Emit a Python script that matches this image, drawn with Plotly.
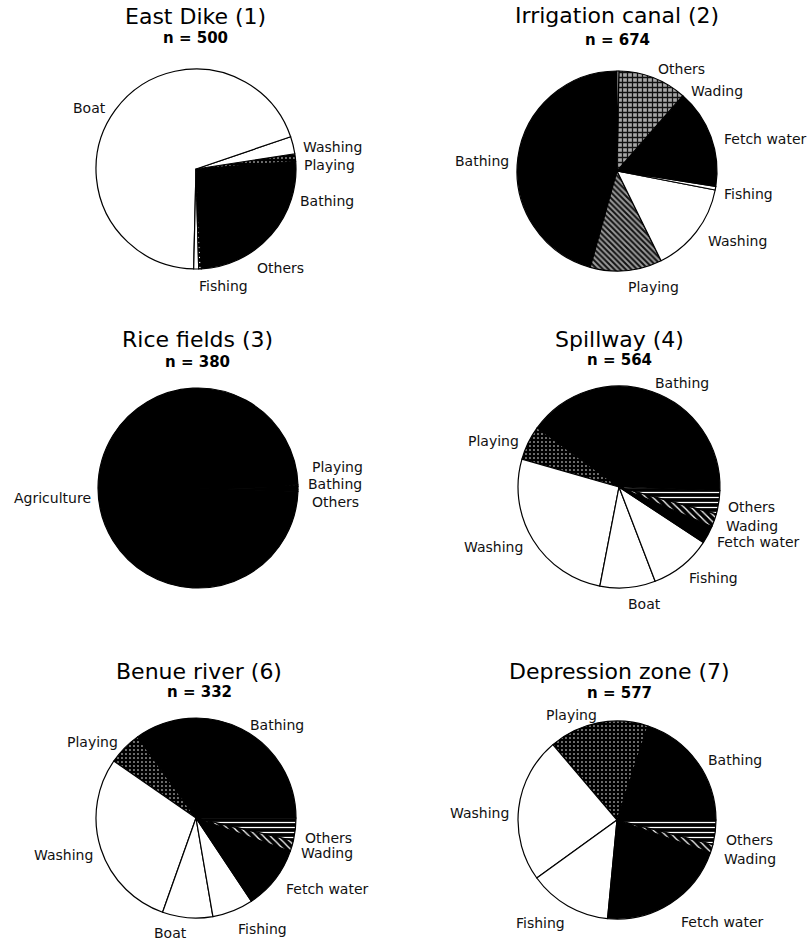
import plotly.graph_objects as go

# Activity categories, in the order the slices run counter-clockwise
CATEGORIES = ["Bathing", "Playing", "Washing", "Boat", "Fishing",
              "Fetch water", "Wading", "Others"]

# Number of observed contacts per activity at each site
east_dike = [127, 6, 14, 347, 4, 0, 0, 2]
irrigation_canal = [308, 78, 99, 0, 4, 108, 75, 2]
spillway = [229, 31, 149, 50, 56, 16, 12, 21]
benue_river = [116, 18, 97, 27, 22, 34, 6, 12]
depression_zone = [115, 94, 137, 0, 78, 122, 8, 23]

RICE_CATEGORIES = ["Bathing", "Playing", "Agriculture", "Others"]
rice_fields = [2, 1, 376, 1]

SITE_TITLES = ["East Dike (1)", "Irrigation canal (2)", "Rice fields (3)",
               "Spillway (4)", "Benue river (6)", "Depression zone (7)"]

W, H = 809, 942
FONT = "DejaVu Sans"

# Fill style per activity: (background colour, pattern shape, pattern colour, size, solidity)
STYLE = {
    "Bathing":     ("#000000", "", "#000000", 4, 0.3),
    "Fetch water": ("#000000", "", "#000000", 4, 0.3),
    "Agriculture": ("#000000", "", "#000000", 4, 0.3),
    "Playing":     ("#000000", ".", "#ffffff", 4, 0.12),
    "Wading":      ("#000000", "\\", "#ffffff", 5, 0.25),
    "Others":      ("#000000", "-", "#ffffff", 5, 0.25),
    "Washing":     ("#ffffff", "", "#ffffff", 4, 0.3),
    "Boat":        ("#ffffff", "", "#ffffff", 4, 0.3),
    "Fishing":     ("#ffffff", "", "#ffffff", 4, 0.3),
}

# Irrigation canal uses lighter hatching for playing and wading
CANAL_STYLE = {
    "Playing": ("#9a9a9a", "\\", "#111111", 4, 0.5),
    "Wading":  ("#a8a8a8", "+", "#111111", 5, 0.45),
    "Others":  ("#ffffff", "", "#ffffff", 4, 0.3),
}

# Pie layout: centre (px), radius (px) and the clockwise angle (from 12 o'clock)
# where the first slice begins before the slices run counter-clockwise
PIES = [
    dict(labels=CATEGORIES, values=east_dike, cx=196, cy=169, r=100, start=177),
    dict(labels=CATEGORIES, values=irrigation_canal, cx=617, cy=171, r=100, start=0,
         style=CANAL_STYLE),
    dict(labels=RICE_CATEGORIES, values=rice_fields, cx=198, cy=488, r=100, start=91),
    dict(labels=CATEGORIES, values=spillway, cx=619, cy=487, r=101, start=92),
    dict(labels=CATEGORIES, values=benue_river, cx=196, cy=818, r=100, start=90),
    dict(labels=CATEGORIES, values=depression_zone, cx=617, cy=820, r=99, start=90),
]

# Title / sample size positions (px)
TITLE_POS = [(195, 17, 38), (617, 16, 40), (197, 340, 362),
             (619, 340, 360), (199, 671, 692), (619, 671, 693)]

# Slice label positions (px)
SLICE_LABELS = [
    [("Boat", 89, 108), ("Washing", 332, 147), ("Playing", 329, 165),
     ("Bathing", 327, 201), ("Others", 280, 268), ("Fishing", 223, 286)],
    [("Others", 681, 69), ("Wading", 717, 91), ("Fetch water", 765, 139),
     ("Fishing", 748, 194), ("Washing", 737, 241), ("Playing", 653, 287),
     ("Bathing", 482, 161)],
    [("Agriculture", 52, 498), ("Playing", 337, 467), ("Bathing", 335, 484),
     ("Others", 335, 502)],
    [("Bathing", 682, 383), ("Playing", 493, 441), ("Others", 751, 507),
     ("Wading", 752, 526), ("Fetch water", 758, 542), ("Washing", 493, 547),
     ("Fishing", 713, 578), ("Boat", 644, 604)],
    [("Bathing", 277, 725), ("Playing", 92, 742), ("Others", 328, 838),
     ("Wading", 327, 853), ("Washing", 64, 855), ("Fetch water", 327, 889),
     ("Fishing", 262, 929), ("Boat", 170, 933)],
    [("Playing", 571, 715), ("Bathing", 735, 760), ("Washing", 480, 813),
     ("Others", 749, 840), ("Wading", 750, 859), ("Fishing", 540, 923),
     ("Fetch water", 722, 922)],
]

fig = go.Figure()

for pie in PIES:
    labels = [l for l, v in zip(pie["labels"], pie["values"]) if v > 0]
    values = [v for v in pie["values"] if v > 0]
    overrides = pie.get("style", {})
    styles = [overrides.get(l, STYLE[l]) for l in labels]
    cx, cy, r = pie["cx"], pie["cy"], pie["r"]
    # In counter-clockwise mode plotly places the first slice clockwise of
    # `rotation`, so rotation is the far edge of the first slice.
    rotation = (pie["start"] - 360.0 * values[0] / sum(values)) % 360
    fig.add_trace(go.Pie(
        labels=labels,
        values=values,
        sort=False,
        direction="counterclockwise",
        rotation=rotation,
        textinfo="none",
        showlegend=False,
        domain=dict(x=[(cx - r) / W, (cx + r) / W],
                    y=[1 - (cy + r) / H, 1 - (cy - r) / H]),
        marker=dict(
            colors=[s[0] for s in styles],
            line=dict(color="#000000", width=1.2),
            pattern=dict(
                shape=[s[1] for s in styles],
                fgcolor=[s[2] for s in styles],
                bgcolor=[s[0] for s in styles],
                size=[s[3] for s in styles],
                solidity=[s[4] for s in styles],
            ),
        ),
    ))

annotations = []
for title, (x, ty, ny), pie in zip(SITE_TITLES, TITLE_POS, PIES):
    n = sum(pie["values"])
    annotations.append(dict(
        text=title, x=x / W, y=1 - ty / H, xref="paper", yref="paper",
        showarrow=False, xanchor="center", yanchor="middle",
        font=dict(family=FONT, size=22, color="#000000")))
    annotations.append(dict(
        text=f"<b>n = {n}</b>", x=x / W, y=1 - ny / H, xref="paper", yref="paper",
        showarrow=False, xanchor="center", yanchor="middle",
        font=dict(family=FONT, size=15, color="#000000")))

for group in SLICE_LABELS:
    for text, x, y in group:
        annotations.append(dict(
            text=text, x=x / W, y=1 - y / H, xref="paper", yref="paper",
            showarrow=False, xanchor="center", yanchor="middle",
            font=dict(family=FONT, size=14, color="#111111")))

fig.update_layout(
    width=W, height=H,
    margin=dict(l=0, r=0, t=0, b=0),
    paper_bgcolor="#ffffff",
    plot_bgcolor="#ffffff",
    annotations=annotations,
)

fig.write_html("out.html")
